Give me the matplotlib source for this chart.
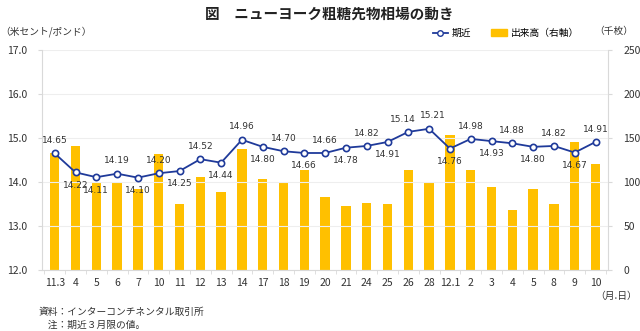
import numpy as np
import matplotlib.pyplot as plt
from matplotlib.lines import Line2D
from matplotlib.patches import Patch

plt.rcParams['font.family'] = ['Noto Sans CJK JP', 'DejaVu Sans']

# data
dates = ["11.3", "4", "5", "6", "7", "10", "11", "12", "13", "14", "17", "18", "19", "20",
         "21", "24", "25", "26", "28", "12.1", "2", "3", "4", "5", "8", "9", "10"]
price = [14.65, 14.22, 14.11, 14.19, 14.10, 14.20, 14.25, 14.52, 14.44, 14.96, 14.80, 14.70, 14.66, 14.66,
         14.78, 14.82, 14.91, 15.14, 15.21, 14.76, 14.98, 14.93, 14.88, 14.80, 14.82, 14.67, 14.91]
volume = [133, 141, 99, 100, 92, 132, 75, 106, 89, 138, 104, 99, 114, 83,
          73, 76, 75, 114, 100, 154, 114, 94, 68, 92, 75, 145, 121]
# 1 = label above the point, 0 = below
above = [1, 0, 0, 1, 0, 1, 0, 1, 0, 1, 0, 1, 0, 1,
         0, 1, 0, 1, 1, 0, 1, 0, 1, 0, 1, 0, 1]

gold = "#FFC000"
blue = "#1F3A9A"
grey = "#d9d9d9"

fig = plt.figure(figsize=(6.4, 3.31), dpi=100)
ax = fig.add_axes([0.066, 0.184, 0.884, 0.665])
ax2 = ax.twinx()

x = np.arange(len(dates))
ax2.bar(x, volume, width=0.45, color=gold, zorder=1)
ax2.set_ylim(0, 250)
ax2.set_yticks(range(0, 251, 50))

ax.set_zorder(ax2.get_zorder() + 1)
ax.patch.set_visible(False)
ax.plot(x, price, color=blue, lw=1.3, marker="o", ms=4.5, mfc="white", mec=blue, mew=1.2, zorder=3)
for i, v in enumerate(price):
    dy = 6 if above[i] else -6
    dx = 0
    if i == 17:
        dx = -4
    if i == 18:
        dx = 3
    ax.annotate(f"{v:.2f}", (i, v), xytext=(dx, dy), textcoords="offset points",
                ha="center", va="bottom" if above[i] else "top", fontsize=6.5, color="#333333",
                family="DejaVu Sans")

ax.set_ylim(12, 17)
ax.set_yticks(np.arange(12, 17.01, 1))
ax.set_yticklabels([f"{t:.1f}" for t in np.arange(12, 17.01, 1)])
ax.set_xlim(-0.6, len(dates) - 0.4)
ax.set_xticks(x)
ax.set_xticklabels(dates)
ax.set_xticks(np.arange(-0.5, len(dates), 1), minor=True)
ax.tick_params(axis="x", which="major", length=0, pad=6)
ax.tick_params(axis="x", which="minor", length=3, color=grey)
ax.grid(axis="y", color="#eeeeee", lw=0.8)
ax.set_axisbelow(True)

for a in (ax, ax2):
    a.tick_params(labelsize=7.5, colors="#333333")
    a.tick_params(axis="y", length=3, color=grey)
    for s in a.spines.values():
        s.set_visible(False)
ax.spines["left"].set_visible(True)
ax.spines["left"].set_color(grey)
ax.spines["bottom"].set_visible(True)
ax.spines["bottom"].set_color(grey)
ax2.spines["right"].set_visible(True)
ax2.spines["right"].set_color(grey)
ax.tick_params(axis="y", pad=8)
ax2.tick_params(axis="y", pad=8)

fig.text(0.515, 0.96, "図　ニューヨーク粗糖先物相場の動き", ha="center", va="center", fontsize=10.5,
         fontweight="bold", color="#222222")
fig.text(0.0, 0.905, "（米セント/ポンド）", ha="left", va="center", fontsize=7, color="#333333")
fig.text(0.99, 0.905, "（千枚）", ha="right", va="center", fontsize=7, color="#333333")
fig.text(0.995, 0.105, "（月.日）", ha="right", va="center", fontsize=7, color="#333333")
fig.text(0.06, 0.057, "資料：インターコンチネンタル取引所", ha="left", va="center", fontsize=7, color="#333333")
fig.text(0.06, 0.018, "　注：期近３月限の値。", ha="left", va="center", fontsize=7, color="#333333")

handles = [Line2D([], [], color=blue, lw=1.3, marker="o", ms=4, mfc="white", mec=blue),
           Patch(color=gold)]
fig.legend(handles, ["期近", "出来高（右軸）"], loc="center", bbox_to_anchor=(0.79, 0.9), ncol=2,
           frameon=False, fontsize=7, handlelength=1.6, columnspacing=2.0, handletextpad=0.4)

fig.savefig("out.png", dpi=100)
